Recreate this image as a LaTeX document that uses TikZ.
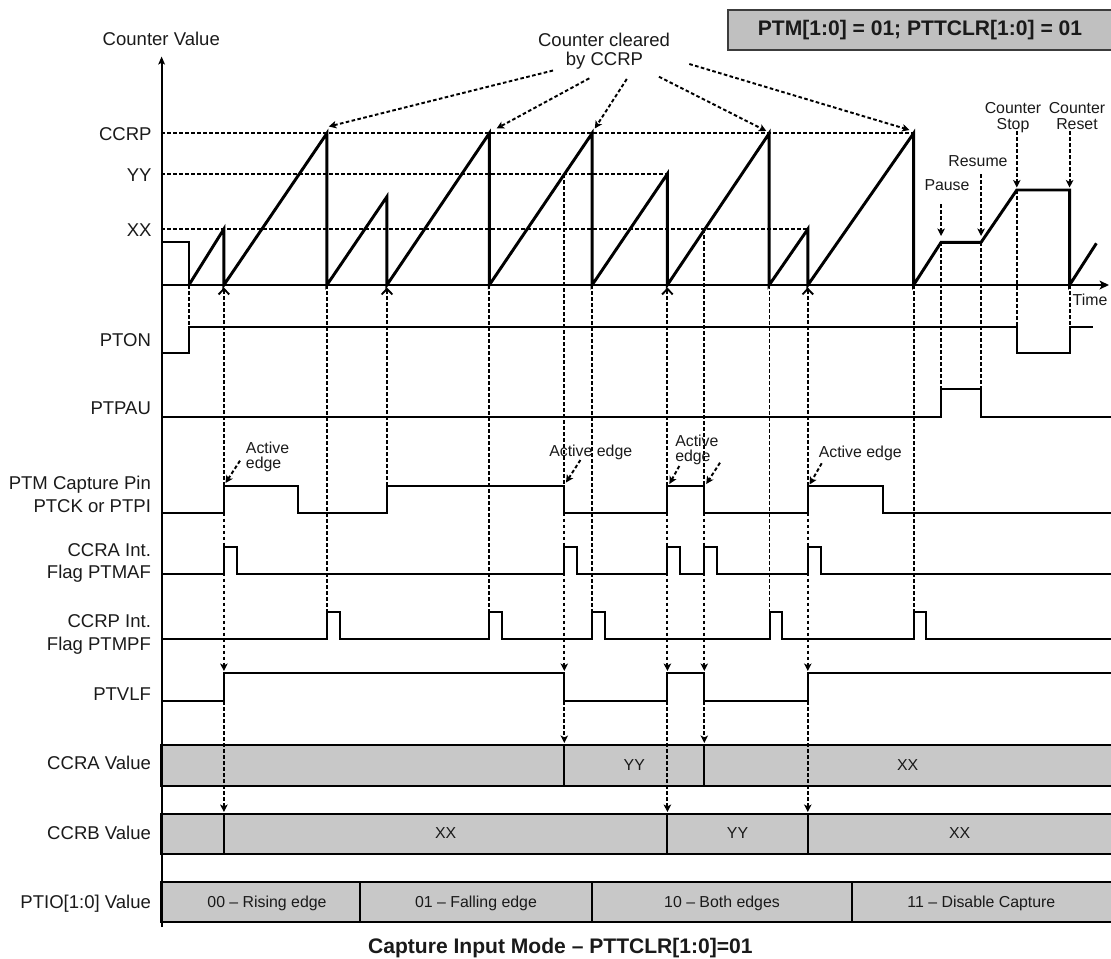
\documentclass[tikz,border=0pt]{standalone}
\usepackage{fontspec}
\setmainfont{Liberation Sans}
\usetikzlibrary{arrows.meta}
\definecolor{boxgray}{HTML}{C8C8C8}
\definecolor{titlegray}{HTML}{C0C0C0}
\definecolor{inkgray}{HTML}{1A1A1A}
\begin{document}
\begin{tikzpicture}[x=0.75pt,y=-0.75pt,
  lab/.style={font=\fontsize{13.9}{16}\selectfont, anchor=base east, inner sep=0pt, text=inkgray},
  labc/.style={font=\fontsize{13.9}{16}\selectfont, anchor=base, inner sep=0pt, text=inkgray},
  sm/.style={font=\fontsize{11.9}{14}\selectfont, inner sep=0pt, anchor=base, text=inkgray},
  smw/.style={font=\fontsize{11.9}{14}\selectfont, inner sep=0pt, anchor=base west, text=inkgray},
  boldt/.style={font=\fontsize{15.8}{18}\selectfont\bfseries, inner sep=0pt, anchor=base, text=inkgray},
  sig/.style={line width=1.5pt, line join=miter, line cap=rect},
  saw/.style={line width=2.2pt, line join=miter},
  dots/.style={line width=1.45pt, dash pattern=on 2.7pt off 1.8pt},
  tip/.style={-{Stealth[length=5.6pt,width=5.6pt,inset=1.4pt]}},
  upcaret/.style={-{Straight Barb[length=4.2pt,width=8pt,line width=1.4pt]}},
  vbox/.style={fill=boxgray, draw=black, line width=1.5pt},
]
\path[use as bounding box] (0,0) rectangle (1111,958);

% ---------- value boxes ----------
\draw[vbox] (161.4,745) rectangle (1114,786);
\draw[line width=1.5pt] (564.3,745) -- (564.3,786) (704.3,745) -- (704.3,786);
\node[sm] (ayy) at (634.3,770) {YY};
\node[sm] (axx) at (907.6,770) {XX};

\draw[vbox] (161.4,814) rectangle (1114,854.3);
\draw[line width=1.5pt] (223.6,814) -- (223.6,854.3) (667.1,814) -- (667.1,854.3) (807.9,814) -- (807.9,854.3);
\node[sm] (bxx1) at (445.6,838.5) {XX};
\node[sm] (byy) at (737.5,838.5) {YY};
\node[sm] (bxx2) at (959.6,838.5) {XX};

\draw[vbox] (161.4,882.3) rectangle (1114,922.3);
\draw[line width=1.5pt] (359.6,882.3) -- (359.6,922.3) (592.1,882.3) -- (592.1,922.3) (851.8,882.3) -- (851.8,922.3);
\node[sm] (m00) at (267,907.5) {00 – Rising edge};
\node[sm] (m01) at (476,907.5) {01 – Falling edge};
\node[sm] (m10) at (722,907.5) {10 – Both edges};
\node[sm] (m11) at (981.4,907.5) {11 – Disable Capture};

% ---------- title and caption ----------
\draw[fill=titlegray, draw=inkgray!85, line width=1.5pt] (728.3,10) rectangle (1114,50);
\node[boldt] (title) at (920,35.5) {PTM[1:0] = 01; PTTCLR[1:0] = 01};
\node[boldt] (caption) at (560.4,953) {Capture Input Mode – PTTCLR[1:0]=01};

% ---------- level lines ----------
\draw[dots] (161.4,133.3) -- (913.6,133.3);
\draw[dots] (161.4,174) -- (667.1,174);
\draw[dots] (161.4,229) -- (807.9,229);

% ---------- dotted event lines ----------
\draw[dots] (188.9,285) -- (188.9,326.5);
% 223.6
\draw[dots,upcaret] (223.9,486) -- (223.9,287.5);
\draw[dots,tip] (223.9,512.7) -- (223.9,671);
\draw[dots,tip] (223.9,701) -- (223.9,812);
\draw[dots] (327.2,285) -- (327.2,611.7);
\draw[dots,upcaret] (387,486) -- (387,287.5);
\draw[dots] (489.3,285) -- (489.3,611.7);
% 564.3
\draw[dots] (564.3,174) -- (564.3,486);
\draw[dots,tip] (564.3,512.7) -- (564.3,671);
\draw[dots,tip] (564.3,701) -- (564.3,743);
\draw[dots] (592.1,285) -- (592.1,611.7);
% 667.1
\draw[dots,upcaret] (667.4,486) -- (667.4,287.5);
\draw[dots,tip] (667.4,512.7) -- (667.4,671);
\draw[dots,tip] (667.4,701) -- (667.4,812);
% 704.3
\draw[dots] (704.3,229) -- (704.3,486);
\draw[dots,tip] (704.3,512.7) -- (704.3,671);
\draw[dots,tip] (704.3,701) -- (704.3,743);
\draw[dots] (769.5,285) -- (769.5,611.7);
% 807.9
\draw[dots,upcaret] (807.8,486) -- (807.8,287.5);
\draw[dots,tip] (807.8,512.7) -- (807.8,671);
\draw[dots,tip] (807.8,701) -- (807.8,812);
\draw[dots] (913.6,285) -- (913.6,611.7);
% pause / resume / stop / reset
\draw[dots,tip] (941.1,204) -- (941.1,236);
\draw[dots] (941.1,242.3) -- (941.1,389.3);
\draw[dots,tip] (981.1,174) -- (981.1,236);
\draw[dots] (981.1,242.3) -- (981.1,389.3);
\draw[dots,tip] (1016.8,131) -- (1016.8,187.5);
\draw[dots] (1016.8,190) -- (1016.8,325.7);
\draw[dots,tip] (1069.6,131) -- (1069.6,187.5);
\draw[dots] (1069.6,285) -- (1069.6,325.7);

% ---------- counter cleared arrows ----------
\node[labc] (cc1) at (604,46.7) {Counter cleared};
\node[labc] (cc2) at (604.5,65) {by CCRP};
\draw[dots,tip] (553,70.5) -- (328.8,126.5);
\draw[dots,tip] (589.3,78.3) -- (496.6,128.5);
\draw[dots,tip] (626.8,79) -- (594.8,128.5);
\draw[dots,tip] (658.9,76.7) -- (766.3,131);
\draw[dots,tip] (689.3,64) -- (909.5,130);

% ---------- active edge labels ----------
\node[smw] (ae1a) at (245.7,453.3) {Active};
\node[smw] (ae1b) at (245.7,468.3) {edge};
\draw[dots,tip] (240,460.7) -- (225.5,483);
\node[smw] (ae2) at (549,456.7) {Active edge};
\draw[dots,tip] (580.4,460) -- (566,482.5);
\node[smw] (ae3a) at (675,446) {Active};
\node[smw] (ae3b) at (675,461) {edge};
\draw[dots,tip] (679.3,466) -- (669.4,484);
\draw[dots,tip] (720,462.7) -- (706.2,484);
\node[smw] (ae4) at (818.5,457.3) {Active edge};
\draw[dots,tip] (821.7,463.3) -- (809.6,484.5);

% ---------- pause etc labels ----------
\node[sm] (pause) at (947,190.7) {Pause};
\node[sm] (resume) at (978,166.7) {Resume};
\node[sm] (cs1) at (1013,113) {Counter};
\node[sm] (cs2) at (1013,129) {Stop};
\node[sm] (cr1) at (1077,113) {Counter};
\node[sm] (cr2) at (1077,129) {Reset};
\node[sm] (time) at (1090,305.7) {Time};

% ---------- axes ----------
\draw[line width=1.5pt, -{Stealth[length=6pt,width=5pt,inset=1.3pt]}] (161.6,927) -- (161.6,56.5);
\draw[line width=2.2pt, -{Stealth[length=7pt,width=6.5pt,inset=1.6pt]}] (161.6,285) -- (1109,285);
\node[labc] (cv) at (161.3,45) {Counter Value};

% ---------- counter waveform ----------
\draw[sig] (161.6,242.3) -- (188.9,242.3) -- (188.9,285);
\draw[saw] (188.9,285) -- (223.9,229) -- (223.9,285) -- (326.9,133.3) -- (326.9,285)
  -- (386.9,196.7) -- (386.9,285) -- (489.3,133.3) -- (489.3,285)
  -- (592.1,133.3) -- (592.1,285) -- (667.3,174) -- (667.3,285)
  -- (769.2,133.3) -- (769.2,285) -- (807.9,229) -- (807.9,285)
  -- (913.6,133.3) -- (913.6,285) -- (941.1,242.3) -- (981.1,242.3)
  -- (1016.8,190) -- (1069.6,190) -- (1069.6,285) -- (1096.4,243.3);

% ---------- left labels ----------
\node[lab] (lccrp) at (151.8,140.5) {CCRP};
\node[lab] (lyy) at (151.8,181.5) {YY};
\node[lab] (lxx) at (151.8,236.5) {XX};
\node[lab] (lpton) at (151.2,346.7) {PTON};
\node[lab] (lptpau) at (151.2,414.3) {PTPAU};
\node[lab] (lpin1) at (151.2,489.3) {PTM Capture Pin};
\node[lab] (lpin2) at (151.2,512.6) {PTCK or PTPI};
\node[lab] (lmaf1) at (151.2,556) {CCRA Int.};
\node[lab] (lmaf2) at (151.2,578.3) {Flag PTMAF};
\node[lab] (lmpf1) at (151.2,627.7) {CCRP Int.};
\node[lab] (lmpf2) at (151.2,650) {Flag PTMPF};
\node[lab] (lvlf) at (151.2,700) {PTVLF};
\node[lab] (lccra) at (151.2,769.3) {CCRA Value};
\node[lab] (lccrb) at (151.2,839) {CCRB Value};
\node[lab] (lptio) at (151.2,908.3) {PTIO[1:0] Value};

% ---------- digital signals ----------
\draw[sig] (161.6,353.3) -- (188.9,353.3) -- (188.9,326.5) -- (1016.8,326.5) -- (1016.8,353.3)
  -- (1069.6,353.3) -- (1069.6,326.5) -- (1091.8,326.5);
\draw[sig] (161.6,416.7) -- (941.1,416.7) -- (941.1,389.3) -- (981.1,389.3) -- (981.1,416.7) -- (1113,416.7);
\draw[sig] (161.6,512.7) -- (223.9,512.7) -- (223.9,486) -- (298.3,486) -- (298.3,512.7)
  -- (387.3,512.7) -- (387.3,486) -- (564.3,486) -- (564.3,512.7) -- (667.4,512.7)
  -- (667.4,486) -- (704.3,486) -- (704.3,512.7) -- (807.8,512.7) -- (807.8,486)
  -- (882.5,486) -- (882.5,512.7) -- (1113,512.7);
% PTMAF
\draw[sig] (161.6,574) \foreach \p in {223.9,564.3,667.4,704.3,807.8} { -- (\p,574) -- (\p,547.3) -- ({\p+12.8},547.3) -- ({\p+12.8},574) } -- (1113,574);
% PTMPF
\draw[sig] (161.6,639.3) \foreach \p in {327.2,489.3,592.1,769.5,913.6} { -- (\p,639.3) -- (\p,611.7) -- ({\p+12.8},611.7) -- ({\p+12.8},639.3) } -- (1113,639.3);
% PTVLF
\draw[sig] (161.6,701) -- (223.9,701) -- (223.9,673.3) -- (564.3,673.3) -- (564.3,701) -- (667.4,701)
  -- (667.4,673.3) -- (704.3,673.3) -- (704.3,701) -- (807.8,701) -- (807.8,673.3) -- (1113,673.3);
\end{tikzpicture}
\end{document}
